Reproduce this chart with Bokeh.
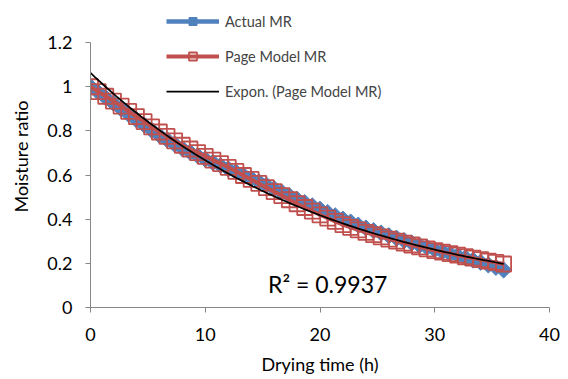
import numpy as np
from bokeh.plotting import figure
from bokeh.models import (Range1d, FixedTicker, NumeralTickFormatter, Legend,
                          LegendItem, Label)
from bokeh.embed import file_html
from bokeh.resources import INLINE

# ---- data ----
drying_time_h = [0, 0.67, 1.33, 2, 2.67, 3.33, 4, 4.67, 5.33, 6, 6.67, 7.33,
                 8, 8.67, 9.33, 10, 10.67, 11.33, 12, 12.67, 13.33, 14, 14.67,
                 15.33, 16, 16.67, 17.33, 18, 18.67, 19.33, 20, 20.67, 21.33,
                 22, 22.67, 23.33, 24, 24.67, 25.33, 26, 26.67, 27.33, 28,
                 28.67, 29.33, 30, 30.67, 31.33, 32, 32.67, 33.33, 34, 34.67,
                 35.33, 36]

actual_mr = [1.000, 0.975, 0.950, 0.925, 0.900, 0.875, 0.850, 0.827, 0.803,
             0.780, 0.760, 0.740, 0.720, 0.704, 0.688, 0.672, 0.657, 0.643,
             0.628, 0.614, 0.599, 0.585, 0.569, 0.554, 0.538, 0.522, 0.506,
             0.490, 0.475, 0.460, 0.445, 0.430, 0.415, 0.400, 0.387, 0.373,
             0.360, 0.348, 0.337, 0.325, 0.314, 0.303, 0.292, 0.282, 0.272,
             0.262, 0.253, 0.244, 0.235, 0.225, 0.215, 0.205, 0.193, 0.182,
             0.170]

page_model_mr = [1.000, 0.978, 0.957, 0.935, 0.912, 0.888, 0.865, 0.842, 0.818,
                 0.795, 0.775, 0.755, 0.735, 0.718, 0.702, 0.685, 0.668, 0.652,
                 0.635, 0.617, 0.598, 0.580, 0.562, 0.543, 0.525, 0.507, 0.488,
                 0.470, 0.453, 0.437, 0.420, 0.405, 0.390, 0.375, 0.363, 0.352,
                 0.340, 0.330, 0.320, 0.310, 0.301, 0.292, 0.283, 0.275, 0.266,
                 0.258, 0.251, 0.244, 0.237, 0.230, 0.224, 0.217, 0.210, 0.204,
                 0.197]

x_ticks = [0, 10, 20, 30, 40]
y_ticks = [0, 0.2, 0.4, 0.6, 0.8, 1.0, 1.2]
r2_text = "R\u00b2 = 0.9937"

# exponential trendline fitted to the Page model series
t = np.array(drying_time_h)
b, ln_a = np.polyfit(t, np.log(np.array(page_model_mr)), 1)
trend_t = np.linspace(t.min(), t.max(), 100)
trend_y = np.exp(ln_a) * np.exp(b * trend_t)

FONT = "Lato"
BLUE = "#4F81BD"
RED = "#C0504D"
GRAY = "#868686"

# frame reaches the top of the canvas so the legend above the 1.2 tick is drawn
p = figure(width=568, height=379, output_backend="svg", toolbar_location=None,
           x_range=Range1d(0, 40), y_range=Range1d(0, 1.368),
           min_border_left=90, min_border_right=19, min_border_top=5,
           min_border_bottom=72)
p.outline_line_color = None
p.grid.visible = False
p.background_fill_color = "white"
p.border_fill_color = "white"

for ax in (p.xaxis[0], p.yaxis[0]):
    ax.axis_line_color = GRAY
    ax.major_tick_line_color = GRAY
    ax.minor_tick_line_color = None
    ax.major_tick_out = 5
    ax.major_tick_in = 0
    ax.major_label_text_font = FONT
    ax.major_label_text_font_size = "18px"
    ax.major_label_text_color = "black"
    ax.axis_label_text_font = FONT
    ax.axis_label_text_font_size = "18px"
    ax.axis_label_text_font_style = "normal"
    ax.axis_label_text_color = "black"

p.xaxis.ticker = FixedTicker(ticks=x_ticks)
p.yaxis.ticker = FixedTicker(ticks=y_ticks)
p.yaxis.bounds = (0, 1.2)
p.yaxis.formatter = NumeralTickFormatter(format="0.[0]")
p.xaxis.major_label_standoff = 15
p.yaxis.major_label_standoff = 13
p.xaxis.axis_label = "Drying time (h)"
p.xaxis.axis_label_standoff = 9
p.yaxis.axis_label = "Moisture ratio"
p.yaxis.axis_label_standoff = 12

# series
bl = p.line(drying_time_h, actual_mr, line_color=BLUE, line_width=4.5)
bs = p.scatter(drying_time_h, actual_mr, marker="square", angle=np.pi / 4,
               size=11.5, fill_color=BLUE, line_color=BLUE)
rl = p.line(drying_time_h, page_model_mr, line_color=RED, line_width=4)
rs = p.scatter(drying_time_h, page_model_mr, marker="square", size=15,
               fill_color=None, line_color=RED, line_width=1.8)
tl = p.line(trend_t, trend_y, line_color="black", line_width=1.75)

legend = Legend(items=[LegendItem(label="Actual MR", renderers=[bl, bs]),
                       LegendItem(label="Page Model MR", renderers=[rl, rs]),
                       LegendItem(label="Expon. (Page Model MR)", renderers=[tl])],
                location=(76, 206), padding=0, spacing=15, glyph_width=53,
                glyph_height=20, label_height=20, label_standoff=6,
                label_text_font=FONT, label_text_font_size="14.5px",
                border_line_color=None, background_fill_alpha=0)
p.add_layout(legend, "center")

p.add_layout(Label(x=15.47, y=0.106, text=r2_text, text_font=FONT,
                   text_font_size="23px", text_baseline="middle",
                   text_color="black"))

open("out.html", "w").write(file_html(p, INLINE))
